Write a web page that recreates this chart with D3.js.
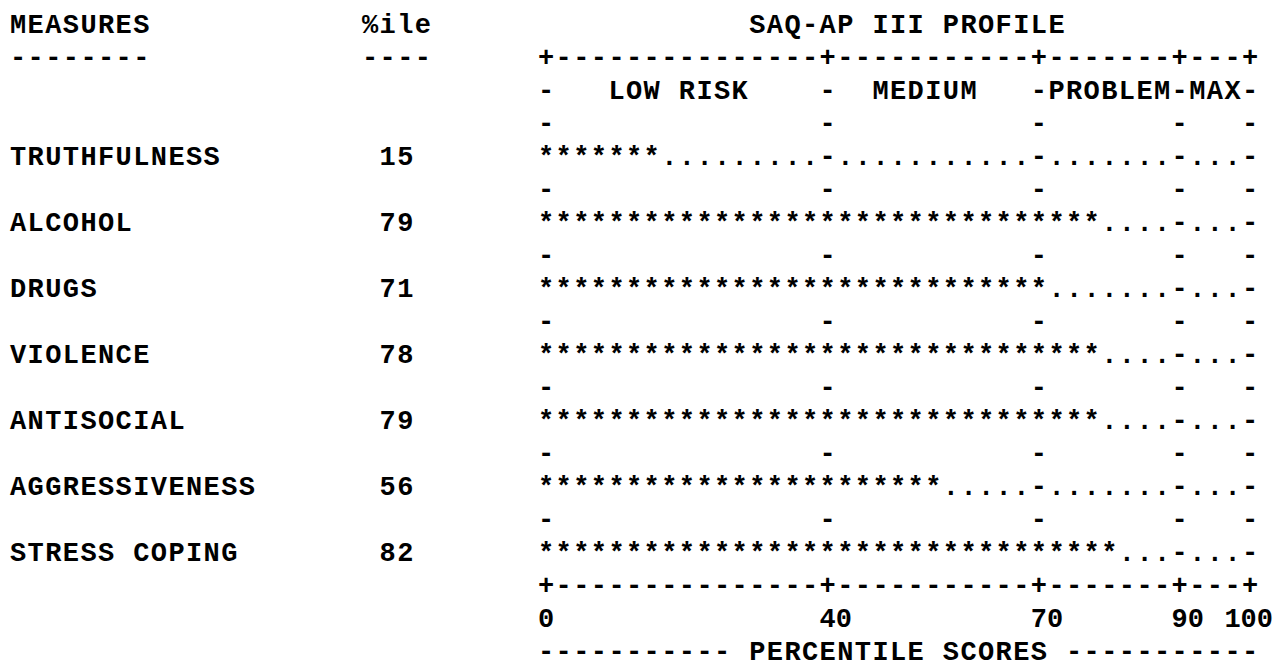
<!DOCTYPE html>
<html>
<head>
<meta charset="utf-8">
<script src="https://cdn.jsdelivr.net/npm/d3@7"></script>
<style>
  html, body { margin: 0; padding: 0; background: #fff; }
  svg text { font-family: "Liberation Mono", "DejaVu Sans Mono", monospace; font-weight: bold; fill: #000; }
</style>
</head>
<body>
<div id="plot"></div>
<script>
// data
const measures = ["TRUTHFULNESS", "ALCOHOL", "DRUGS", "VIOLENCE", "ANTISOCIAL", "AGGRESSIVENESS", "STRESS COPING"];
const percentiles = [15, 79, 71, 78, 79, 56, 82];
const zoneBreaks = [0, 40, 70, 90, 100];
const zoneLabels = ["LOW RISK", "MEDIUM", "PROBLEM", "MAX"];
const tickLabels = ["0", "40", "70", "90", "100"];
const title = "SAQ-AP III PROFILE";
const axisTitle = "PERCENTILE SCORES";

// layout
const width = 1279, height = 663;
const cw = 17.6;           // width of one character cell
const left = 10;
const fontSize = 27;
const col = c => left + c * cw;
const chartCol = 30, chartCols = 40;

// percentile -> pixel, percentile -> character column
const x = d3.scaleLinear().domain([0, 100]).range([col(chartCol), col(chartCol + chartCols)]);
const colScale = d3.scaleLinear().domain([0, 100]).range([0, chartCols]);
// line number -> baseline
const y = d3.scaleLinear().domain([0, 19]).range([33, 660]);

const svg = d3.select("#plot")
  .append("svg")
    .attr("width", width)
    .attr("height", height);

// write a string, one glyph per character cell
function put(str, c0, line) {
  const xs = Array.from(str, (ch, i) => col(c0 + i).toFixed(2));
  svg.append("text")
    .attr("x", xs.join(" "))
    .attr("y", y(line))
    .attr("font-size", fontSize)
    .attr("xml:space", "preserve")
    .text(str);
}

// left columns
put("MEASURES", 0, 0);
put("--------", 0, 1);
put("%ile", 20, 0);
put("----", 20, 1);
measures.forEach((m, i) => {
  put(m, 0, 4 + 2 * i);
  put(String(percentiles[i]), 21, 4 + 2 * i);
});

// title
put(title, chartCol + Math.ceil((chartCols + 1 - title.length) / 2), 0);

const cols = d3.range(0, chartCols + 1);
const isBreak = c => zoneBreaks.includes(colScale.invert(c));

// border lines (top and bottom)
function border(line) {
  svg.append("g").selectAll("text")
    .data(cols)
    .join("text")
      .attr("x", c => x(colScale.invert(c)))
      .attr("y", y(line))
      .attr("font-size", fontSize)
      .text(c => isBreak(c) ? "+" : "-");
}
border(1);
border(17);

// zone label line
const gz = svg.append("g");
gz.selectAll("text.brk")
  .data(zoneBreaks)
  .join("text")
    .attr("class", "brk")
    .attr("x", d => x(d))
    .attr("y", y(2))
    .attr("font-size", fontSize)
    .text("-");
zoneLabels.forEach((lab, i) => {
  const c0 = colScale(zoneBreaks[i]) + 1;
  const span = colScale(zoneBreaks[i + 1]) - c0;
  put(lab, chartCol + c0 + Math.floor((span - lab.length) / 2), 2);
});

// separator lines with break ticks
[3, 5, 7, 9, 11, 13, 15].forEach(line => {
  svg.append("g").selectAll("text")
    .data(zoneBreaks)
    .join("text")
      .attr("x", d => x(d))
      .attr("y", y(line))
      .attr("font-size", fontSize)
      .text("-");
});

// profile rows
percentiles.forEach((p, i) => {
  svg.append("g").selectAll("text")
    .data(cols.map(c => ({ pct: colScale.invert(c), c })))
    .join("text")
      .attr("x", d => x(d.pct))
      .attr("y", y(4 + 2 * i))
      .attr("font-size", fontSize)
      .text(d => d.pct <= p ? "*" : (isBreak(d.c) ? "-" : "."));
});

// tick labels
svg.append("g").selectAll("text")
  .data(zoneBreaks)
  .join("text")
    .attr("x", (d, i) => col(chartCol + Math.min(colScale(d), chartCols + 2 - tickLabels[i].length)))
    .attr("y", y(18))
    .attr("font-size", fontSize)
    .text((d, i) => tickLabels[i]);

// axis title line
const pad = (chartCols + 1 - axisTitle.length - 2) / 2;
put("-".repeat(Math.floor(pad)) + " " + axisTitle + " " + "-".repeat(Math.ceil(pad)), chartCol, 19);
</script>
</body>
</html>
